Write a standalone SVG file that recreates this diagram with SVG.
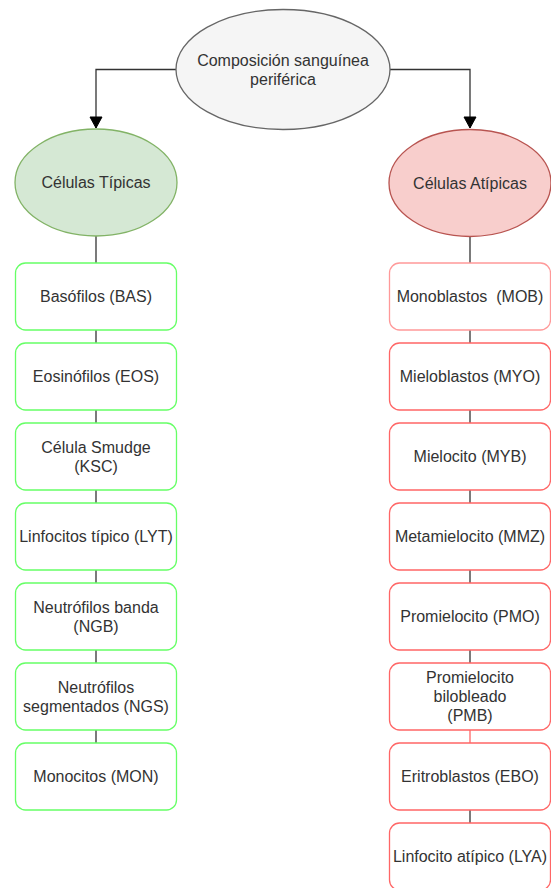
<svg xmlns="http://www.w3.org/2000/svg" width="551" height="888" viewBox="0 0 551 888">
<style>
text{font-family:"Liberation Sans",Arial,sans-serif;font-size:16px;fill:#333333;text-anchor:middle}
.g{fill:#ffffff;stroke:#66ff66;stroke-width:1.3}
.r{fill:#ffffff;stroke:#ff6666;stroke-width:1.3}
.r2{fill:#ffffff;stroke:#ff9999;stroke-width:1.3}
.c{fill:none;stroke:#333333;stroke-width:1.3}
.cr{fill:none;stroke:#ff6666;stroke-width:1.3}
</style>
<defs>
<marker id="arr" markerUnits="userSpaceOnUse" markerWidth="14" markerHeight="14" viewBox="0 0 14 14" refX="12" refY="7" orient="auto">
<path d="M1,1 L12,7 L1,13 Z" fill="#000000" stroke="#000000"/>
</marker>
</defs>
<g id="connectors">
<path class="c" d="M176,69.5 H96 V128" marker-end="url(#arr)"/>
<path class="c" d="M390,69.5 H470 V128" marker-end="url(#arr)"/>
<path class="c" d="M96,236 V263"/>
<path class="c" d="M96,330 V343"/>
<path class="c" d="M96,410 V423"/>
<path class="c" d="M96,490 V503"/>
<path class="c" d="M96,570 V583"/>
<path class="c" d="M96,650 V663"/>
<path class="c" d="M96,730 V743"/>
<path class="c" d="M470,236.5 V263"/>
<path class="c" d="M470,330 V343"/>
<path class="c" d="M470,410 V423"/>
<path class="c" d="M470,490 V503"/>
<path class="c" d="M470,570 V583"/>
<path class="c" d="M470,650 V663"/>
<path class="cr" d="M470,730 V743"/>
<path class="c" d="M470,810 V823"/>
</g>
<g id="root">
<ellipse cx="283" cy="69.5" rx="107" ry="60" fill="#f5f5f5" stroke="#666666" stroke-width="1.3"/>
<text x="283" y="66">Composición sanguínea</text>
<text x="283" y="85">periférica</text>
</g>
<g id="tipicas">
<ellipse cx="96" cy="182.5" rx="81" ry="53.5" fill="#d5e8d4" stroke="#82b366" stroke-width="1.3"/>
<text x="96" y="188">Células Típicas</text>
</g>
<g id="atipicas">
<ellipse cx="470" cy="183" rx="81" ry="53.5" fill="#f8cecc" stroke="#b85450" stroke-width="1.3"/>
<text x="470" y="188.5">Células Atípicas</text>
</g>
<g id="bas"><rect class="g" x="15.5" y="263" width="161" height="67" rx="10"/><text x="96" y="302">Basófilos (BAS)</text></g>
<g id="eos"><rect class="g" x="15.5" y="343" width="161" height="67" rx="10"/><text x="96" y="382">Eosinófilos (EOS)</text></g>
<g id="ksc"><rect class="g" x="15.5" y="423" width="161" height="67" rx="10"/><text x="96" y="453">Célula Smudge</text><text x="96" y="472">(KSC)</text></g>
<g id="lyt"><rect class="g" x="15.5" y="503" width="161" height="67" rx="10"/><text x="96" y="542">Linfocitos típico (LYT)</text></g>
<g id="ngb"><rect class="g" x="15.5" y="583" width="161" height="67" rx="10"/><text x="96" y="613">Neutrófilos banda</text><text x="96" y="632">(NGB)</text></g>
<g id="ngs"><rect class="g" x="15.5" y="663" width="161" height="67" rx="10"/><text x="96" y="693">Neutrófilos</text><text x="96" y="712">segmentados (NGS)</text></g>
<g id="mon"><rect class="g" x="15.5" y="743" width="161" height="67" rx="10"/><text x="96" y="782">Monocitos (MON)</text></g>
<g id="mob"><rect class="r2" x="389.5" y="263" width="161" height="67" rx="10"/><text x="470" y="302" xml:space="preserve">Monoblastos  (MOB)</text></g>
<g id="myo"><rect class="r" x="389.5" y="343" width="161" height="67" rx="10"/><text x="470" y="382">Mieloblastos (MYO)</text></g>
<g id="myb"><rect class="r" x="389.5" y="423" width="161" height="67" rx="10"/><text x="470" y="462">Mielocito (MYB)</text></g>
<g id="mmz"><rect class="r" x="389.5" y="503" width="161" height="67" rx="10"/><text x="470" y="542">Metamielocito (MMZ)</text></g>
<g id="pmo"><rect class="r" x="389.5" y="583" width="161" height="67" rx="10"/><text x="470" y="622">Promielocito (PMO)</text></g>
<g id="pmb"><rect class="r" x="389.5" y="663" width="161" height="67" rx="10"/><text x="470" y="683">Promielocito</text><text x="470" y="702">bilobleado</text><text x="470" y="721">(PMB)</text></g>
<g id="ebo"><rect class="r" x="389.5" y="743" width="161" height="67" rx="10"/><text x="470" y="782">Eritroblastos (EBO)</text></g>
<g id="lya"><rect class="r" x="389.5" y="823" width="161" height="67" rx="10"/><text x="470" y="862">Linfocito atípico (LYA)</text></g>
</svg>
